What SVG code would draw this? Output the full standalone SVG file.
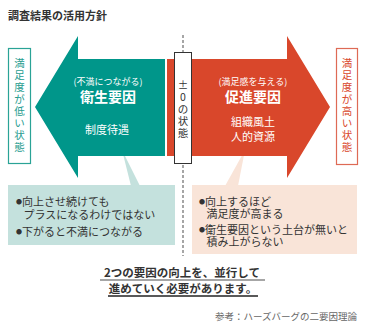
<svg xmlns="http://www.w3.org/2000/svg" width="375" height="330" viewBox="0 0 375 330">
<style>
text{font-family:"Noto Sans CJK JP","Noto Sans",sans-serif;}
.w{fill:#fff;text-anchor:middle;}
.b{fill:#333;font-size:11px;}
.d{font-size:6px;}
.v{font-size:10.5px;text-anchor:middle;}
.lo{fill:#1F9C8F;}
.hi{fill:#D9472B;}
.z{font-size:10.5px;fill:#333;text-anchor:middle;}
</style>
<rect width="375" height="330" fill="#fff"/>
<text x="8" y="20" font-size="11" font-weight="bold" fill="#333">調査結果の活用方針</text>
<g id="connectors">
<line x1="183" y1="35" x2="183" y2="256" stroke="#777" stroke-width="1.3" stroke-dasharray="3 2"/>
<polygon points="122,150 140,186 131,186" fill="#C4E1DD"/>
<polygon points="245,150 238,186 225,186" fill="#F9E4D8"/>
</g>
<g id="hygiene">
<polygon points="35,107 78,36 78,59 165,59 165,156 78,156 78,178" fill="#00968A"/>
<text class="w" x="108" y="85" font-size="9">(不満につながる)</text>
<text class="w" x="108" y="102" font-size="14" font-weight="bold">衛生要因</text>
<text class="w" x="107" y="134" font-size="11">制度待遇</text>
</g>
<g id="motivator">
<polygon points="167,59 287,59 287,36 330,107 287,178 287,156 167,156" fill="#D9472B"/>
<text class="w" x="253" y="85" font-size="9">(満足感を与える)</text>
<text class="w" x="253" y="102" font-size="14" font-weight="bold">促進要因</text>
<text class="w" x="253" y="126" font-size="11">組織風土</text>
<text class="w" x="253" y="141" font-size="11">人的資源</text>
</g>
<g id="zero">
<rect x="174.5" y="52.5" width="17" height="111" fill="#fff" stroke="#333" stroke-width="1"/>
<text class="z" x="183" y="89">±</text>
<text class="z" x="183" y="101">0</text>
<text class="z" x="183" y="113">の</text>
<text class="z" x="183" y="125">状</text>
<text class="z" x="183" y="137">態</text>
</g>
<g id="low">
<rect x="8.5" y="48.5" width="22" height="115" fill="#fff" stroke="#2AA396" stroke-width="1.2"/>
<text class="v lo" x="19.5" y="67">満</text>
<text class="v lo" x="19.5" y="79">足</text>
<text class="v lo" x="19.5" y="91">度</text>
<text class="v lo" x="19.5" y="103">が</text>
<text class="v lo" x="19.5" y="115">低</text>
<text class="v lo" x="19.5" y="127">い</text>
<text class="v lo" x="19.5" y="139">状</text>
<text class="v lo" x="19.5" y="151">態</text>
</g>
<g id="high">
<rect x="336.5" y="48.5" width="21" height="116" fill="#fff" stroke="#DE6A55" stroke-width="1.2"/>
<text class="v hi" x="347" y="67">満</text>
<text class="v hi" x="347" y="79">足</text>
<text class="v hi" x="347" y="91">度</text>
<text class="v hi" x="347" y="103">が</text>
<text class="v hi" x="347" y="115">高</text>
<text class="v hi" x="347" y="127">い</text>
<text class="v hi" x="347" y="139">状</text>
<text class="v hi" x="347" y="151">態</text>
</g>
<g id="note-left">
<rect x="8" y="185" width="167" height="60" fill="#C4E1DD"/>
<text class="b" x="16" y="206"><tspan class="d" dy="-2">●</tspan><tspan dy="2">向上させ続けても</tspan></text>
<text class="b" x="23.5" y="219">プラスになるわけではない</text>
<text class="b" x="16" y="236"><tspan class="d" dy="-2">●</tspan><tspan dy="2">下がると不満につながる</tspan></text>
</g>
<g id="note-right">
<rect x="192" y="185" width="165" height="69" fill="#F9E4D8"/>
<text class="b" x="199" y="206"><tspan class="d" dy="-2">●</tspan><tspan dy="2">向上するほど</tspan></text>
<text class="b" x="206.5" y="218">満足度が高まる</text>
<text class="b" x="199" y="234"><tspan class="d" dy="-2">●</tspan><tspan dy="2">衛生要因という土台が無いと</tspan></text>
<text class="b" x="206.5" y="246">積み上がらない</text>
</g>
<g id="summary">
<text x="182" y="277" font-size="11.5" font-weight="bold" fill="#333" text-anchor="middle">2つの要因の向上を、並行して</text>
<line x1="100" y1="280" x2="265" y2="280" stroke="#888" stroke-width="1.5"/>
<text x="183" y="293" font-size="11.5" font-weight="bold" fill="#333" text-anchor="middle">進めていく必要があります。</text>
<line x1="108" y1="296" x2="258" y2="296" stroke="#222" stroke-width="1.5"/>
<text x="357" y="320" font-size="9.5" fill="#666" text-anchor="end">参考：ハーズバーグの二要因理論</text>
</g>
</svg>
